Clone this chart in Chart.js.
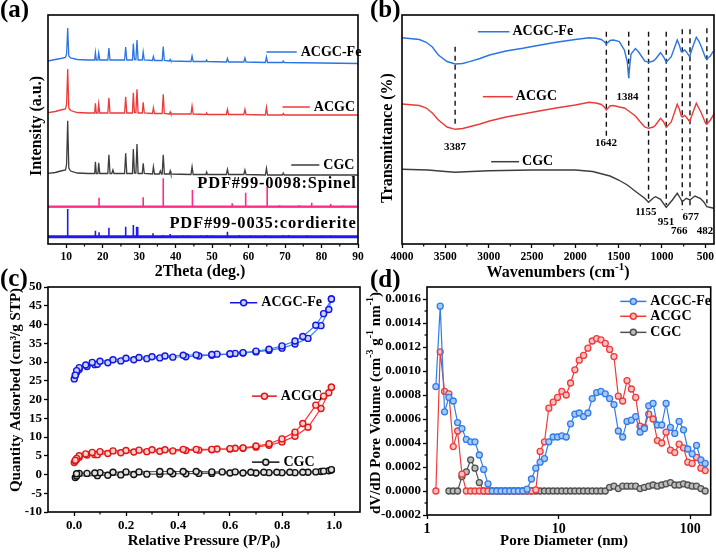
<!DOCTYPE html>
<html>
<head>
<meta charset="utf-8">
<script src="https://cdn.jsdelivr.net/npm/chart.js@4.4.0/dist/chart.umd.min.js"></script>
<style>
html, body { margin: 0; padding: 0; background: #fff; }
#wrap { position: relative; width: 716px; height: 553px; overflow: hidden; }
#wrap canvas { position: absolute; left: 0; top: 0; }
</style>
</head>
<body>
<div id="wrap">
  <canvas id="xrdChart" width="716" height="553"></canvas>
  <canvas id="ftirChart" width="716" height="553"></canvas>
  <canvas id="betChart" width="716" height="553"></canvas>
  <canvas id="poreChart" width="716" height="553"></canvas>
</div>
<script>
// ---- (a) XRD, intensity in arbitrary units (stacked) ----
const xrdX = [5, 7, 8.5, 9.8, 10.1, 10.4, 10.7, 11.2, 13, 16, 17.8, 18.0, 18.25, 18.7, 18.9, 19.2, 21.4, 21.7, 22.0, 26.0, 26.3, 26.6, 28.15, 28.4, 28.7, 29.1, 29.4, 29.7, 30.85, 31.1, 31.4, 33.65, 33.9, 34.2, 36.3, 36.6, 36.9, 38.3, 38.5, 38.7, 44.2, 44.5, 44.8, 48.3, 48.5, 48.7, 53.9, 54.2, 54.5, 58.7, 59.0, 59.3, 64.6, 64.9, 65.2, 69.3, 69.5, 69.8, 80, 90];
const feXrd = [183, 184.5, 185.5, 186.5, 190, 216, 188, 186, 184.5, 184, 184, 191.5, 184, 184, 191, 184, 184, 196, 184, 184, 197, 184, 184, 200.5, 184.5, 184.5, 204, 184, 184, 192, 184, 183.5, 187.5, 183.5, 183.5, 197.5, 183.5, 183, 184.5, 183, 182.5, 188, 182.5, 182.5, 184, 182.5, 182, 185.5, 182, 182, 186, 182, 181.5, 187, 181.5, 181.5, 183, 181.5, 181, 180.5];
const acXrd = [131.3, 132.5, 134, 135, 140, 175, 136, 133.5, 131.5, 131, 131, 140.7, 131, 131, 140, 131, 131, 146.3, 131, 131, 147.3, 131, 131, 151.3, 131.5, 131.5, 154.7, 131, 131, 141.7, 131, 130.5, 136.3, 130.5, 130.5, 149.7, 130.5, 130, 132, 130, 130, 138, 130, 129.5, 131, 129.5, 129.5, 134.7, 129.5, 129.5, 134.7, 129.5, 129, 136.7, 129, 129, 130.5, 129, 129, 129];
const cgX = [5, 7, 8.5, 9.8, 10.1, 10.4, 10.7, 11.2, 13, 16, 17.8, 18.0, 18.25, 18.7, 18.9, 19.2, 21.4, 21.7, 22.0, 22.5, 22.8, 23.1, 26.0, 26.3, 26.6, 28.15, 28.4, 28.7, 29.1, 29.4, 29.7, 30.85, 31.1, 31.4, 33.65, 33.9, 34.2, 35.5, 35.8, 36.1, 36.3, 36.6, 36.9, 38.3, 38.5, 38.7, 44.2, 44.5, 44.8, 48.3, 48.5, 48.7, 53.9, 54.2, 54.5, 58.7, 59.0, 59.3, 64.6, 64.9, 65.2, 69.3, 69.5, 69.8, 80, 90];
const cgXrd = [70.7, 71.5, 73, 74, 80, 123.3, 76, 73, 71, 70.5, 70.5, 82.3, 70.5, 70.5, 81.3, 70.5, 70.5, 89.3, 70.5, 70.5, 74, 70.5, 70.5, 90.7, 70.5, 70.5, 95, 71, 71, 100, 70.5, 70.5, 80.7, 70.5, 70, 77.3, 70, 70, 73, 70, 70, 89.3, 70, 70, 73, 70, 69.5, 77.3, 69.5, 69.5, 72, 69.5, 69.5, 74.7, 69.5, 69.5, 74, 69.5, 69, 75.7, 69, 69, 71, 69, 69, 69];
const spinelBase = 37.3;
const spinelPos = [19.0, 31.1, 36.6, 44.6, 55.5, 59.2, 65.1, 68.5, 73.9, 77.3, 82.5, 85.8];
const spinelTop = [46.3, 46.7, 65.7, 54, 40.7, 51.3, 57.3, 38.8, 38.7, 41.3, 40, 38.5];
const cordBase = 7.3;
const cordPos = [10.4, 18.0, 19.0, 21.7, 26.3, 28.4, 29.3, 29.6, 33.8, 36.5, 38.5, 42.0, 43.5, 47.0, 48.5, 50.0, 54.2, 57.5, 60.5, 64.5, 69.5, 71.0, 76.0, 80.0, 82.5];
const cordTop = [35, 13.3, 11.7, 16.3, 17.3, 19, 17.3, 17, 10.7, 9, 10, 8.5, 8.5, 8.5, 9, 8.5, 12.3, 9, 8.5, 8.5, 9, 9, 8.5, 8.5, 8.5];
const xrdTicks = [10, 20, 30, 40, 50, 60, 70, 80, 90];
const xrdMinor = [15, 25, 35, 45, 55, 65, 75, 85];

// ---- (b) FTIR, transmittance (stacked, a.u.) ----
const feWn = [4000, 3800, 3720, 3650, 3580, 3480, 3387, 3300, 3221, 3100, 2990, 2800, 2606, 2450, 2222, 2000, 1839, 1762, 1700, 1666, 1642, 1600, 1560, 1493, 1434, 1400, 1384, 1370, 1357, 1307, 1269, 1200, 1155, 1100, 1074, 1017, 980, 951, 893, 824, 800, 778, 766, 740, 720, 681, 650, 604, 575, 546, 496, 482, 442, 412, 400];
const feT = [206.3, 204.5, 201.7, 197, 189, 182.5, 180, 180.5, 182.3, 185.5, 189, 193, 195.7, 198.3, 201.7, 204.5, 206.3, 205.7, 204.5, 202.3, 200, 203.5, 204, 202.3, 194, 182, 165.7, 180, 190, 195.5, 192, 183, 181.7, 183, 185, 191.3, 187, 181.7, 187.3, 204, 199, 192.3, 192, 194, 192.3, 187.3, 196, 206.7, 203, 197.3, 185.7, 185, 188, 192.3, 193];
const acWn = [4000, 3800, 3720, 3650, 3580, 3480, 3387, 3300, 3221, 3100, 2990, 2800, 2606, 2450, 2222, 2000, 1839, 1762, 1700, 1666, 1642, 1600, 1560, 1493, 1434, 1384, 1307, 1250, 1200, 1155, 1100, 1074, 1017, 980, 951, 893, 824, 800, 778, 766, 740, 720, 681, 650, 604, 575, 546, 496, 482, 442, 412, 400];
const acT = [140, 138.5, 136, 131, 124, 117, 114.7, 115.5, 117.3, 120, 123, 127, 130, 132.5, 136, 139, 141.7, 141, 139.5, 137, 134, 138, 138.5, 137, 136, 133, 128, 122, 117, 115.7, 117, 119, 125.7, 122, 116.7, 122, 139.7, 135, 128, 127, 128.5, 127, 122.3, 130, 140.7, 136, 131, 120.5, 119.7, 124, 128, 131];
const cgWn = [4000, 3700, 3500, 3387, 3200, 3000, 2500, 2000, 1800, 1600, 1500, 1400, 1300, 1200, 1155, 1100, 1074, 1017, 951, 880, 824, 790, 766, 720, 677, 620, 560, 520, 482, 440, 400];
const cgT = [74.7, 74, 72.5, 71.7, 72.5, 73.3, 74, 74, 72.5, 68, 64, 59, 52.3, 45.7, 41.7, 46, 47.3, 44.7, 36.7, 44, 50.7, 46, 42.3, 45.7, 44, 48, 45.7, 42.3, 37.3, 36.5, 35.7];
const bandWn = [3387, 1642, 1384, 1155, 951, 766, 677, 482];
const bandTop = [197.3, 212.3, 212.3, 212.3, 212.3, 214.7, 214.7, 215.7];
const bandBottom = [117.3, 107.3, 166, 44, 39, 34, 36, 40.7];
const ftirTicks = [4000, 3500, 3000, 2500, 2000, 1500, 1000, 500];
const ftirMinor = [3750, 3250, 2750, 2250, 1750, 1250, 750];

// ---- (c) N2 isotherms ----
const feAdsP = [0.001, 0.005, 0.01, 0.02, 0.05, 0.08, 0.09, 0.13, 0.18, 0.23, 0.28, 0.33, 0.38, 0.43, 0.48, 0.53, 0.60, 0.65, 0.70, 0.75, 0.80, 0.85, 0.90, 0.95, 0.98, 0.99];
const feAdsQ = [25.5, 26.5, 27.2, 28.0, 28.8, 29.3, 29.4, 29.8, 30.3, 30.6, 30.9, 31.1, 31.3, 31.4, 31.6, 31.8, 32.1, 32.4, 32.7, 33.1, 33.7, 34.8, 36.3, 39.7, 44.0, 46.8];
const feDesP = [0.99, 0.96, 0.93, 0.88, 0.85, 0.80, 0.75, 0.70, 0.65, 0.62, 0.60, 0.55, 0.53, 0.47, 0.42, 0.35, 0.30, 0.25, 0.20, 0.15, 0.10, 0.07, 0.045, 0.02, 0.01, 0.005];
const feDesQ = [46.8, 42.9, 39.8, 36.8, 35.6, 34.3, 33.4, 32.9, 32.5, 32.3, 32.2, 32.1, 32.0, 31.9, 31.8, 31.6, 31.4, 31.2, 31.0, 30.6, 30.2, 29.9, 29.2, 28.5, 27.7, 26.5];
const acAdsQ = [3.2, 3.6, 4.0, 4.6, 5.2, 5.3, 5.3, 5.6, 5.8, 6.0, 6.1, 6.2, 6.3, 6.4, 6.5, 6.6, 6.8, 7.0, 7.3, 7.8, 8.7, 10.2, 12.6, 17.6, 21.8, 23.3];
const acDesQ = [23.3, 20.9, 18.5, 13.6, 11.3, 9.5, 8.2, 7.6, 7.1, 7.0, 6.9, 6.8, 6.7, 6.7, 6.7, 6.6, 6.6, 6.5, 6.4, 6.3, 6.1, 5.9, 5.5, 5.0, 4.3, 3.8];
const cgAdsP = [0.005, 0.01, 0.09, 0.13, 0.18, 0.23, 0.28, 0.33, 0.38, 0.43, 0.48, 0.53, 0.60, 0.65, 0.70, 0.75, 0.80, 0.85, 0.90, 0.95, 0.98, 0.99];
const cgAdsQ = [-0.8, -0.4, -0.3, -0.2, -0.1, 0, 0.1, 0.1, 0.2, 0.2, 0.3, 0.3, 0.4, 0.4, 0.4, 0.5, 0.5, 0.5, 0.6, 0.8, 1.0, 1.2];
const cgDesP = [0.99, 0.96, 0.93, 0.88, 0.83, 0.78, 0.73, 0.68, 0.62, 0.57, 0.53, 0.47, 0.42, 0.37, 0.33, 0.25, 0.20, 0.15, 0.10, 0.08, 0.05, 0.02, 0.01];
const cgDesQ = [1.3, 0.9, 0.7, 0.6, 0.6, 0.6, 0.6, 0.6, 0.7, 0.7, 0.7, 0.8, 0.8, 0.8, 0.8, 0.7, 0.7, 0.6, 0.5, 0.4, 0.3, 0.3, 0.2];
const betXTicks = [0, 0.2, 0.4, 0.6, 0.8, 1.0];
const betXMinor = [0.1, 0.3, 0.5, 0.7, 0.9];
const betYTicks = [-10, -5, 0, 5, 10, 15, 20, 25, 30, 35, 40, 45, 50];

// ---- (d) BJH pore size distribution ----
const poreD = [1.168, 1.260, 1.360, 1.467, 1.583, 1.708, 1.843, 1.989, 2.146, 2.315, 2.498, 2.695, 2.908, 3.137, 3.385, 3.652, 3.940, 4.251, 4.587, 4.949, 5.340, 5.761, 6.216, 6.707, 7.236, 7.807, 8.424, 9.089, 9.806, 10.58, 11.42, 12.32, 13.29, 14.34, 15.47, 16.69, 18.01, 19.43, 20.97, 22.62, 24.41, 26.33, 28.41, 30.66, 33.08, 35.69, 38.50, 41.54, 44.82, 48.36, 52.18, 56.30, 60.74, 65.54, 70.71, 76.30, 82.32, 88.82, 95.83, 103.4, 111.6, 120.4, 129.9];
const fePore = [0.00087, 0.00154, 0.00066, 0.00078, 0.00075, 0.00057, 0.00052, 0.00043, 0.00041, 0.00041,
  0.00030, 0.00018, 0.00006, 0, 0, 0, 0, 0, 0, 0,
  0, 0.000015, 0.00010, 0.00019, 0.00024, 0.00027, 0.00041, 0.00045, 0.00045, 0.00046,
  0.00045, 0.00056, 0.00064, 0.00065, 0.00062, 0.00065, 0.00077, 0.00082, 0.00083, 0.00081,
  0.00077, 0.00072, 0.00050, 0.00045, 0.00058, 0.00059, 0.00062, 0.00049, 0.00052, 0.00071,
  0.00073, 0.00055, 0.00055, 0.00073, 0.00053, 0.00048, 0.00058, 0.00051, 0.00035, 0.00031,
  0.00038, 0.00026, 0.00023];
const acPore = [0, 0.00116, 0.00083, 0.00081, 0.00037, 0.00050, 0.00014, 0, 0, 0,
  0, 0, 0, 0, 0, 0, 0, 0, 0, 0,
  0, 0, 0, 0.00001, 0.00033, 0.00041, 0.00069, 0.00074, 0.00078, 0.00083,
  0.00080, 0.00090, 0.00101, 0.00109, 0.00113, 0.00119, 0.00125, 0.00127, 0.00126, 0.00123,
  0.00118, 0.00112, 0.00079, 0.00075, 0.00092, 0.00085, 0.00078, 0.00054, 0.00053, 0.00064,
  0.00060, 0.00042, 0.00040, 0.00049, 0.00034, 0.00032, 0.00039, 0.00036, 0.00024, 0.00023,
  0.00028, 0.00019, 0.00017];
const cgPore = [null, null, null, 0, 0, 0, 0.00012, 0.00016, 0.00026, 0.00019,
  0.00007, 0, 0, 0, 0, 0, 0, 0, 0, 0,
  0, 0, 0, 0, 0, 0, 0, 0, 0, 0,
  0, 0, 0, 0, 0, 0, 0, 0, 0, 0,
  0.00003, 0.00004, 0.00002, 0.00004, 0.00004, 0.00004, 0.00004, 0.00002, 0.00003, 0.00004,
  0.00005, 0.00004, 0.00005, 0.00006, 0.00007, 0.00005, 0.00005, 0.00006, 0.00005, 0.00004,
  0.00004, 0.00002, 0];
const poreXTicks = [1, 10, 100];
const poreYTicks = [-0.0002, 0, 0.0002, 0.0004, 0.0006, 0.0008, 0.0010, 0.0012, 0.0014, 0.0016];
const poreYMinor = [-0.0001, 0.0001, 0.0003, 0.0005, 0.0007, 0.0009, 0.0011, 0.0013, 0.0015];

const SERIF = '"Liberation Serif", "Times New Roman", serif';
const BLUE = '#2b74e4';
const RED = '#ec3a3a';
const GREY = '#3d3d3d';

function zip(xs, ys) {
  return xs.map((x, i) => ({ x: x, y: ys[i] }));
}

function stickPoints(pos, tops, base) {
  const pts = [{ x: 5, y: base }];
  pos.forEach((p, i) => {
    pts.push({ x: p, y: base }, { x: p, y: tops[i] }, { x: p, y: base });
  });
  pts.push({ x: 90, y: base });
  return pts;
}

function richText(ctx, segs, x, y, size, rotate) {
  ctx.save();
  ctx.translate(x, y);
  if (rotate) ctx.rotate(-Math.PI / 2);
  const fontOf = s => 'bold ' + ((s.sup || s.sub) ? Math.round(size * 0.68) : size) + 'px ' + SERIF;
  let total = 0;
  segs.forEach(s => { ctx.font = fontOf(s); total += ctx.measureText(s.t).width; });
  let cx = -total / 2;
  ctx.textAlign = 'left';
  ctx.textBaseline = 'middle';
  ctx.fillStyle = '#000';
  segs.forEach(s => {
    ctx.font = fontOf(s);
    const dy = s.sup ? -size * 0.35 : (s.sub ? size * 0.32 : 0);
    ctx.fillText(s.t, cx, dy);
    cx += ctx.measureText(s.t).width;
  });
  ctx.restore();
}

// frame, minor ticks, legends, notes and titles; config kept in a closure
function decorPlugin(o) {
  return {
    id: 'decor',
    afterDraw(chart) {
      const ctx = chart.ctx, a = chart.chartArea;
      const sx = chart.scales.x, sy = chart.scales.y;
      ctx.save();
      ctx.strokeStyle = '#000';
      ctx.lineWidth = 1.2;
      (o.minorX || []).forEach(v => {
        const p = sx.getPixelForValue(v);
        ctx.beginPath(); ctx.moveTo(p, a.bottom); ctx.lineTo(p, a.bottom + 2.5); ctx.stroke();
      });
      (o.minorY || []).forEach(v => {
        const p = sy.getPixelForValue(v);
        ctx.beginPath(); ctx.moveTo(a.left, p); ctx.lineTo(a.left - 2.5, p); ctx.stroke();
      });
      ctx.lineWidth = 1.6;
      ctx.strokeRect(a.left, a.top, a.right - a.left, a.bottom - a.top);

      (o.legend || []).forEach(e => {
        const x1 = sx.getPixelForValue(e.x1), x2 = sx.getPixelForValue(e.x2), y = sy.getPixelForValue(e.y);
        ctx.strokeStyle = e.color;
        ctx.lineWidth = 1.5;
        ctx.beginPath(); ctx.moveTo(x1, y); ctx.lineTo(x2, y); ctx.stroke();
        if (e.dot) {
          ctx.beginPath(); ctx.arc((x1 + x2) / 2, y, 3, 0, Math.PI * 2);
          ctx.fillStyle = e.dot; ctx.fill(); ctx.stroke();
        }
        ctx.fillStyle = '#000';
        ctx.font = 'bold ' + o.legendSize + 'px ' + SERIF;
        ctx.textAlign = 'left';
        ctx.textBaseline = 'middle';
        ctx.fillText(e.text, x2 + o.legendGap, y);
      });

      (o.notes || []).forEach(n => {
        ctx.fillStyle = '#000';
        ctx.font = 'bold ' + n.size + 'px ' + SERIF;
        ctx.letterSpacing = (n.spacing || 0) + 'px';
        ctx.textAlign = n.align || 'center';
        ctx.textBaseline = 'middle';
        ctx.fillText(n.text, sx.getPixelForValue(n.x), sy.getPixelForValue(n.y));
        ctx.letterSpacing = '0px';
      });

      if (o.xTitle) richText(ctx, o.xTitle.segs, o.xTitle.at[0], o.xTitle.at[1], o.titleSize, false);
      if (o.yTitle) richText(ctx, o.yTitle.segs, o.yTitle.at[0], o.yTitle.at[1], o.titleSize, true);
      if (o.panel) {
        ctx.fillStyle = '#000';
        ctx.font = 'bold 25px ' + SERIF;
        ctx.textAlign = 'left';
        ctx.textBaseline = 'middle';
        ctx.fillText(o.panel.text, o.panel.at[0], o.panel.at[1]);
      }
      ctx.restore();
    }
  };
}

function tickAxis(extra, tickList, size, fmt) {
  return Object.assign({
    afterBuildTicks: s => { s.ticks = tickList.map(v => ({ value: v })); },
    ticks: {
      color: '#000', autoSkip: false, maxRotation: 0, minRotation: 0, padding: 2,
      font: { family: SERIF, size: size, weight: 'bold' },
      callback: fmt
    },
    grid: { drawOnChartArea: false, drawTicks: true, tickLength: 4, tickWidth: 1.3, tickColor: '#000' },
    border: { display: false }
  }, extra);
}

function makePanel(id, box, yWidth, xScale, yScale, datasets, decor) {
  const xH = 30;
  if (yWidth) yScale.afterFit = s => { s.width = yWidth; };
  xScale.afterFit = s => { s.height = xH; };
  return new Chart(document.getElementById(id), {
    type: 'line',
    data: { datasets: datasets },
    options: {
      responsive: false,
      animation: false,
      events: [],
      layout: { padding: { left: box.left - yWidth, top: box.top, right: 716 - box.right, bottom: 553 - box.bottom - xH } },
      elements: { line: { tension: 0 } },
      plugins: { legend: { display: false }, tooltip: { enabled: false } },
      scales: { x: xScale, y: yScale }
    },
    plugins: [decorPlugin(decor)]
  });
}

function lineSet(data, color, width, extra) {
  return Object.assign({ data: data, borderColor: color, borderWidth: width, pointRadius: 0, fill: false }, extra || {});
}

// (a)
makePanel('xrdChart', { left: 48, top: 15, right: 358, bottom: 244 }, 0,
  tickAxis({ type: 'linear', min: 5, max: 90 }, xrdTicks, 11.5, v => String(v)),
  { display: false, min: 0, max: 229 },
  [
    lineSet(zip(xrdX, feXrd), BLUE, 1.3),
    lineSet(zip(xrdX, acXrd), RED, 1.3),
    lineSet(zip(cgX, cgXrd), GREY, 1.3),
    lineSet(stickPoints(spinelPos, spinelTop, spinelBase), '#ff2b8a', 1.6),
    lineSet([{ x: 5, y: spinelBase }, { x: 90, y: spinelBase }], '#ff2b8a', 2.2),
    lineSet(stickPoints(cordPos, cordTop, cordBase), '#1b1bf2', 1.6),
    lineSet([{ x: 5, y: cordBase }, { x: 90, y: cordBase }], '#1b1bf2', 3)
  ],
  {
    minorX: xrdMinor,
    legendSize: 14, legendGap: 4,
    legend: [
      { x1: 64.9, x2: 73.2, y: 192, color: BLUE, text: 'ACGC-Fe' },
      { x1: 69.3, x2: 76.8, y: 137, color: RED, text: 'ACGC' },
      { x1: 71.7, x2: 79.4, y: 79, color: GREY, text: 'CGC' }
    ],
    notes: [
      { text: 'PDF#99-0098:Spinel', x: 89.6, y: 60, size: 16.5, spacing: 0.8, align: 'right' },
      { text: 'PDF#99-0035:cordierite', x: 89.6, y: 20, size: 16.5, spacing: 0.8, align: 'right' }
    ],
    titleSize: 16,
    xTitle: { segs: [{ t: '2Theta (deg.)' }], at: [200, 272] },
    yTitle: { segs: [{ t: 'Intensity (a.u.)' }], at: [37, 126] },
    panel: { text: '(a)', at: [0, 11] }
  });

// (b)
const bandSets = bandWn.map((w, i) => lineSet([{ x: w, y: bandTop[i] }, { x: w, y: bandBottom[i] }], '#111', 1.4, { borderDash: [5, 4] }));
makePanel('ftirChart', { left: 402, top: 15, right: 714, bottom: 244 }, 0,
  tickAxis({ type: 'linear', min: 400, max: 4000, reverse: true }, ftirTicks, 11.5, v => String(v)),
  { display: false, min: 0, max: 229 },
  [
    lineSet(zip(feWn, feT), BLUE, 1.4),
    lineSet(zip(acWn, acT), RED, 1.4),
    lineSet(zip(cgWn, cgT), GREY, 1.4)
  ].concat(bandSets),
  {
    minorX: ftirMinor,
    legendSize: 14, legendGap: 3,
    legend: [
      { x1: 3124, x2: 2760, y: 212.3, color: BLUE, text: 'ACGC-Fe' },
      { x1: 3067, x2: 2721, y: 147.3, color: RED, text: 'ACGC' },
      { x1: 2971, x2: 2649, y: 82.3, color: GREY, text: 'CGC' }
    ],
    notes: [
      { text: '3387', x: 3387, y: 97, size: 11 },
      { text: '1642', x: 1646, y: 100.5, size: 11 },
      { text: '1384', x: 1397, y: 147, size: 11 },
      { text: '1155', x: 1186, y: 32, size: 11 },
      { text: '951', x: 955, y: 22, size: 11 },
      { text: '677', x: 667, y: 27, size: 11 },
      { text: '766', x: 802, y: 13, size: 11 },
      { text: '482', x: 503, y: 13, size: 11 }
    ],
    titleSize: 16,
    xTitle: { segs: [{ t: 'Wavenumbers (cm' }, { t: '-1', sup: true }, { t: ')' }], at: [558, 273] },
    yTitle: { segs: [{ t: 'Transmittance (%)' }], at: [388, 138] },
    panel: { text: '(b)', at: [370, 11] }
  });

// (c)
function isoSet(adsP, adsQ, desP, desQ, line, mark, fill) {
  return {
    data: zip(adsP, adsQ).concat(zip(desP, desQ)),
    borderColor: line, borderWidth: 1.2, fill: false,
    pointRadius: 3, pointBorderWidth: 1.4,
    pointBorderColor: mark, pointBackgroundColor: fill
  };
}
makePanel('betChart', { left: 48, top: 287, right: 360, bottom: 512 }, 48,
  tickAxis({ type: 'linear', min: -0.1, max: 1.1 }, betXTicks, 13, v => v.toFixed(1)),
  tickAxis({ type: 'linear', min: -10, max: 50 }, betYTicks, 13, v => String(v)),
  [
    isoSet(feAdsP, feAdsQ, feDesP, feDesQ, '#3b82f0', '#1515e0', '#c9d3ff'),
    isoSet(feAdsP, acAdsQ, feDesP, acDesQ, '#ff3030', '#e01515', '#ffd0d0'),
    isoSet(cgAdsP, cgAdsQ, cgDesP, cgDesQ, '#555555', '#111111', '#e0e0e0')
  ],
  {
    minorX: betXMinor,
    legendSize: 14, legendGap: 4,
    legend: [
      { x1: 0.6, x2: 0.705, y: 45.8, color: '#1515e0', dot: '#c9d3ff', text: 'ACGC-Fe' },
      { x1: 0.685, x2: 0.78, y: 20.9, color: '#e01515', dot: '#ffd0d0', text: 'ACGC' },
      { x1: 0.685, x2: 0.79, y: 3.3, color: '#111111', dot: '#e0e0e0', text: 'CGC' }
    ],
    titleSize: 15,
    xTitle: { segs: [{ t: 'Relative Pressure (P/P' }, { t: '0', sub: true }, { t: ')' }], at: [204, 541] },
    yTitle: { segs: [{ t: 'Quantity Adsorbed (cm³/g STP)' }], at: [16, 390] },
    panel: { text: '(c)', at: [0, 280] }
  });

// (d)
function poreSet(vals, color, fill) {
  return {
    data: zip(poreD, vals),
    borderColor: color, borderWidth: 1.2, fill: false, spanGaps: false,
    pointRadius: 3, pointBorderWidth: 1.3,
    pointBorderColor: color, pointBackgroundColor: fill
  };
}
makePanel('poreChart', { left: 427, top: 287, right: 714, bottom: 515 }, 70,
  tickAxis({ type: 'logarithmic', min: 1, max: 143 }, poreXTicks, 14, v => String(v)),
  tickAxis({ type: 'linear', min: -0.0002, max: 0.0017 }, poreYTicks, 13, v => v.toFixed(4)),
  [
    poreSet(fePore, '#2f7de8', '#a8c8f8'),
    poreSet(acPore, '#ee3b3b', '#fbc0c0'),
    poreSet(cgPore, '#505050', '#bdbdbd')
  ],
  {
    minorY: poreYMinor,
    legendSize: 14, legendGap: 4,
    legend: [
      { x1: 29.4, x2: 46.4, y: 0.00158, color: '#2f7de8', dot: '#a8c8f8', text: 'ACGC-Fe' },
      { x1: 29.4, x2: 46.4, y: 0.001456, color: '#ee3b3b', dot: '#fbc0c0', text: 'ACGC' },
      { x1: 29.4, x2: 46.4, y: 0.001322, color: '#505050', dot: '#bdbdbd', text: 'CGC' }
    ],
    titleSize: 15,
    xTitle: { segs: [{ t: 'Pore Diameter (nm)' }], at: [564, 541] },
    yTitle: { segs: [{ t: 'dV/dD Pore Volume (cm' }, { t: '-3', sup: true }, { t: ' g' }, { t: '-1', sup: true }, { t: ' nm' }, { t: '-1', sup: true }, { t: ')' }], at: [376, 403] },
    panel: { text: '(d)', at: [370, 281] }
  });
</script>
</body>
</html>
